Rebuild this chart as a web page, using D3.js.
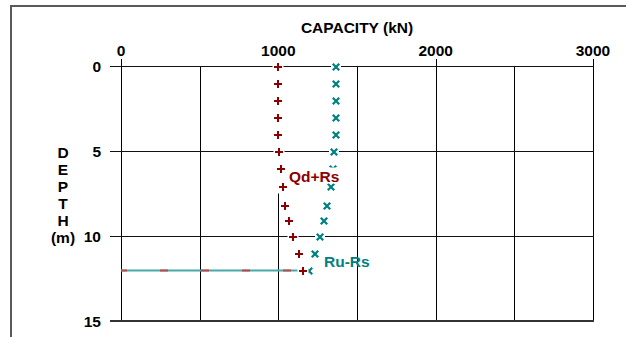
<!DOCTYPE html>
<html>
<head>
<meta charset="utf-8">
<script src="https://cdn.jsdelivr.net/npm/d3@7"></script>
<style>
  html, body { margin: 0; padding: 0; background: #fff; }
  svg { display: block; }
  text { font-family: "Liberation Sans", Arial, sans-serif; font-weight: bold; }
</style>
</head>
<body>
<svg id="chart" width="626" height="337"></svg>
<script>
// ---- data ----
const depths = [0, 1, 2, 3, 4, 5, 6, 7.1, 8.2, 9.1, 10, 11, 12];
const qdRs   = [1000, 1000, 1000, 1000, 1000, 1005, 1015, 1028, 1045, 1070, 1091, 1130, 1155];
const ruRs   = [1365, 1365, 1365, 1365, 1365, 1355, 1350, 1333, 1307, 1290, 1265, 1233, 1193];
const xTicks = [0, 1000, 2000, 3000];
const xGrid  = [0, 500, 1000, 1500, 2000, 2500, 3000];
const yTicks = [0, 5, 10, 15];
const yLabelLetters = ["D", "E", "P", "T", "H", "(m)"];
const pileLine = { capacity: 1000, top: 7.5, bottom: 15 };
const tipDepth = 12;
const seriesLabels = ["Qd+Rs", "Ru-Rs"];

// ---- layout ----
const svg = d3.select("#chart");
const x = d3.scaleLinear().domain([0, 3000]).range([121, 593]);
const y = d3.scaleLinear().domain([0, 15]).range([66, 321]);
const red = "#8b0000", teal = "#008080";
const px = v => Math.round(v) + 0.5;

// frame
svg.append("path").attr("d", "M11,337 V6 H626").attr("fill", "none")
  .attr("stroke", "#5a5a5a").attr("stroke-width", 2);

// title
svg.append("text").attr("x", (x(0) + x(3000)) / 2).attr("y", 32.5)
  .attr("text-anchor", "middle").attr("font-size", 15.5).text("CAPACITY (kN)");

// vertical grid lines
xGrid.forEach(v => {
  if (v === pileLine.capacity) return;
  const top = xTicks.includes(v) ? y(0) - 7 : y(0);
  svg.append("line").attr("x1", px(x(v))).attr("x2", px(x(v))).attr("y1", top).attr("y2", y(15))
    .attr("stroke", "#000").attr("stroke-width", 1);
});
// partial line at 1000
svg.append("line").attr("x1", px(x(pileLine.capacity))).attr("x2", px(x(pileLine.capacity)))
  .attr("y1", y(pileLine.top)).attr("y2", y(pileLine.bottom))
  .attr("stroke", "#000").attr("stroke-width", 1);

// horizontal grid lines
yTicks.forEach(v => {
  const yy = v === 15 ? Math.round(y(v)) : px(y(v));
  svg.append("line").attr("x1", 110).attr("x2", px(x(3000)) + 0.5).attr("y1", yy).attr("y2", yy)
    .attr("stroke", v === 15 ? "#333" : "#111").attr("stroke-width", v === 15 ? 2 : 1);
});

// x tick labels
xTicks.forEach(v => {
  svg.append("text").attr("x", x(v)).attr("y", 55.5).attr("text-anchor", "middle")
    .attr("font-size", 15.5).text(d3.format("d")(v));
});
// y tick labels
yTicks.forEach(v => {
  svg.append("text").attr("x", 101).attr("y", y(v) + 5.5).attr("text-anchor", "end")
    .attr("font-size", 15.5).text(v);
});
// vertical axis title letters
yLabelLetters.forEach((s, i) => {
  svg.append("text").attr("x", 63).attr("y", 157.5 + i * 17).attr("text-anchor", "middle")
    .attr("font-size", 15.5).text(s);
});

// pile tip line at depth 12
const tipY = px(y(tipDepth));
const tipX2 = x(qdRs[depths.indexOf(tipDepth)]) - 3;
svg.append("line").attr("x1", x(0)).attr("x2", tipX2).attr("y1", tipY).attr("y2", tipY)
  .attr("stroke", "#4aa8a8").attr("stroke-width", 2);
svg.append("line").attr("x1", x(0)).attr("x2", tipX2).attr("y1", tipY).attr("y2", tipY)
  .attr("stroke", "#c04848").attr("stroke-width", 2)
  .attr("stroke-dasharray", "8 33").attr("stroke-dashoffset", 2);

// markers: Ru-Rs (x)
depths.forEach((d, i) => {
  const cx = Math.round(x(ruRs[i])), cy = Math.round(y(d) + 0.7);
  svg.append("rect").attr("x", cx - 5).attr("y", cy - 4).attr("width", 10).attr("height", 8).attr("fill", "#fff");
  svg.append("path").attr("d", `M${cx-3.2},${cy-3.2}L${cx+3.2},${cy+3.2}M${cx+3.2},${cy-3.2}L${cx-3.2},${cy+3.2}`)
    .attr("stroke", teal).attr("stroke-width", 2.3).attr("fill", "none");
});
// markers: Qd+Rs (+)
depths.forEach((d, i) => {
  const cx = Math.round(x(qdRs[i])), cy = Math.round(y(d) + 0.7);
  svg.append("rect").attr("x", cx - 5.5).attr("y", cy - 4).attr("width", 11).attr("height", 8).attr("fill", "#fff");
  svg.append("path").attr("d", `M${cx-4},${cy}H${cx+4}M${cx},${cy-4}V${cy+4}`)
    .attr("stroke", red).attr("stroke-width", 2).attr("fill", "none");
});

// series labels
const lab1 = svg.append("g");
lab1.append("rect").attr("x", 287).attr("y", 167.5).attr("width", 54).attr("height", 16).attr("fill", "#fff");
lab1.append("text").attr("x", 289).attr("y", 182).attr("font-size", 15.5).attr("fill", red).text(seriesLabels[0]);
svg.append("text").attr("x", 324).attr("y", 266.7).attr("font-size", 15.5).attr("fill", teal).text(seriesLabels[1]);
</script>
</body>
</html>
